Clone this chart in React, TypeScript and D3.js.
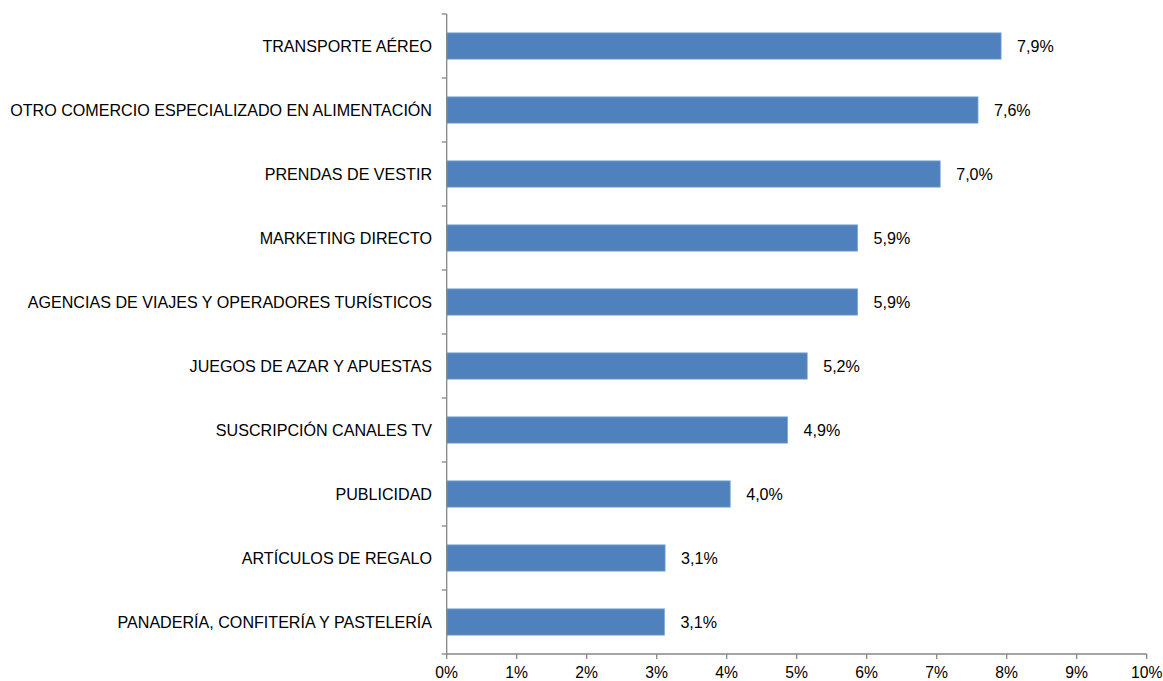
import React from "react";
import * as d3 from "d3";

const categories = [
  "TRANSPORTE AÉREO",
  "OTRO COMERCIO ESPECIALIZADO EN ALIMENTACIÓN",
  "PRENDAS DE VESTIR",
  "MARKETING DIRECTO",
  "AGENCIAS DE VIAJES Y OPERADORES TURÍSTICOS",
  "JUEGOS DE AZAR Y APUESTAS",
  "SUSCRIPCIÓN CANALES TV",
  "PUBLICIDAD",
  "ARTÍCULOS DE REGALO",
  "PANADERÍA, CONFITERÍA Y PASTELERÍA",
];

const values = [7.92, 7.59, 7.05, 5.87, 5.87, 5.15, 4.87, 4.05, 3.12, 3.11];

const valueLabels = ["7,9%", "7,6%", "7,0%", "5,9%", "5,9%", "5,2%", "4,9%", "4,0%", "3,1%", "3,1%"];

const xTicks = [0, 1, 2, 3, 4, 5, 6, 7, 8, 9, 10];

const W = 1163;
const H = 681;
const FONT = "'Liberation Sans', Arial, sans-serif";
const AXIS = "#868686";
const FS = 16.1;

const App = () => {
  const x = d3.scaleLinear().domain([0, 10]).range([446.7, 1146.7]);
  const y = d3
    .scaleBand()
    .domain(categories)
    .range([14, 654])
    .paddingInner(0.59)
    .paddingOuter(0.295);

  const step = y.step();
  const top = y.range()[0];
  const bottom = y.range()[1];
  const boundaries = d3.range(categories.length + 1).map((i) => top + i * step);

  return (
    <svg
      width={W}
      height={H}
      style={{ position: "absolute", left: 0, top: 0, background: "#fff" }}
      fontFamily={FONT}
    >
      {categories.map((c, i) => {
        const yc = y(c)! + y.bandwidth() / 2;
        return (
          <g key={c}>
            <rect
              x={x(0)}
              y={y(c)}
              width={x(values[i]) - x(0)}
              height={y.bandwidth()}
              fill="#4F81BD"
              stroke="#7FA5D6"
              strokeWidth={0.8}
            />
            <text x={432} y={yc} textAnchor="end" dominantBaseline="central" fontSize={FS} fill="#000">
              {c}
            </text>
            <text x={x(values[i]) + 16} y={yc} dominantBaseline="central" fontSize={FS} fill="#000">
              {valueLabels[i]}
            </text>
          </g>
        );
      })}

      {/* y axis */}
      <line x1={x(0)} x2={x(0)} y1={top} y2={bottom} stroke={AXIS} strokeWidth={1.3} />
      {boundaries.map((b, i) => (
        <line key={i} x1={x(0) - 5} x2={x(0)} y1={b} y2={b} stroke={AXIS} strokeWidth={1.3} />
      ))}

      {/* x axis */}
      <line x1={x(0)} x2={x(10)} y1={bottom} y2={bottom} stroke={AXIS} strokeWidth={1.3} />
      {xTicks.map((t) => (
        <g key={t}>
          <line x1={x(t)} x2={x(t)} y1={bottom} y2={bottom + 5} stroke={AXIS} strokeWidth={1.3} />
          <text x={x(t)} y={677.5} textAnchor="middle" fontSize={FS - 0.4} fill="#000">
            {t + "%"}
          </text>
        </g>
      ))}
    </svg>
  );
};

export default App;
